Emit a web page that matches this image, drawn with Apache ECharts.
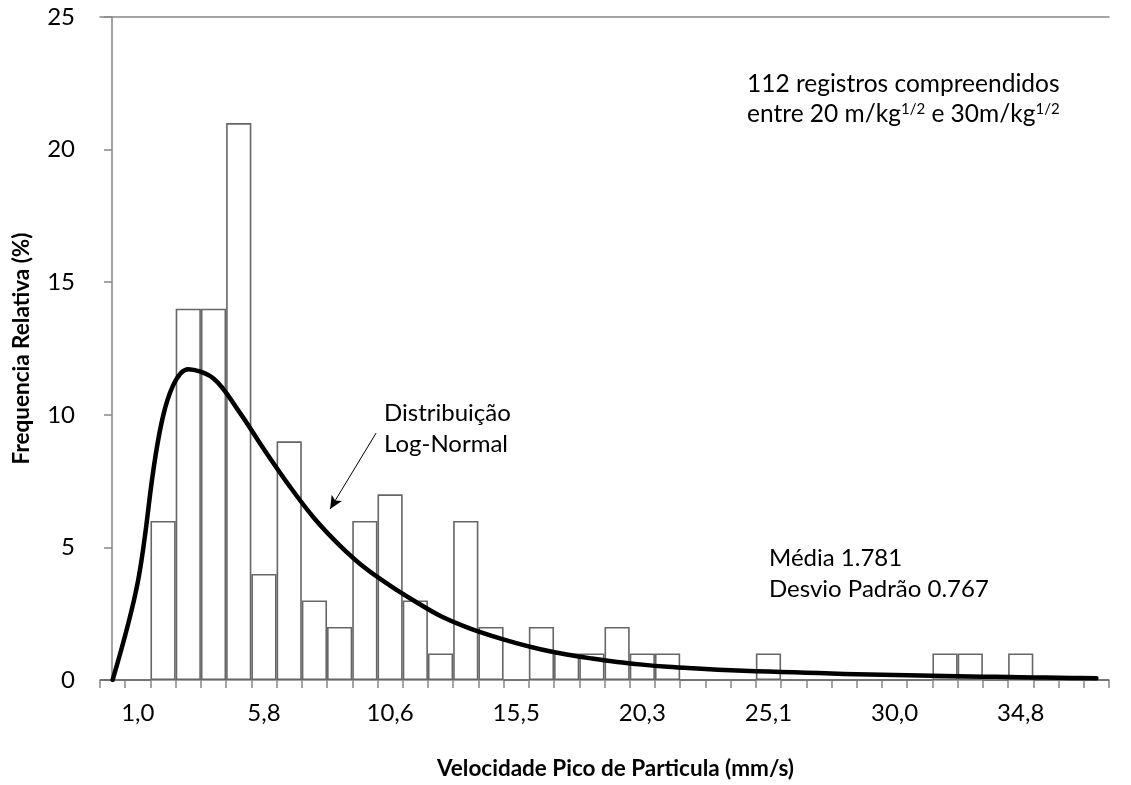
<!DOCTYPE html>
<html>
<head>
<meta charset="utf-8">
<script src="https://cdn.jsdelivr.net/npm/echarts@6/dist/echarts.min.js"></script>
<style>
html,body{margin:0;padding:0;background:#fff;}
#chart{width:1131px;height:785px;}
</style>
</head>
<body>
<div id="chart"></div>
<script>
// Bin centres (mm/s) shown as category labels
const categories = [
  "0,0","1,0","2,0","2,9","3,9","4,9","5,8","6,8","7,7","8,7",
  "9,7","10,6","11,6","12,6","13,5","14,5","15,5","16,4","17,4","18,4",
  "19,3","20,3","21,3","22,2","23,2","24,2","25,1","26,1","27,1","28,0",
  "29,0","30,0","30,9","31,9","32,9","33,8","34,8","35,8","36,7","37,7"
];
// Relative frequency (%) per bin
const frequencies = [
  0, 0, 6, 14, 14, 21, 4, 9, 3, 2,
  6, 7, 3, 1, 6, 2, 0, 2, 1, 1,
  2, 1, 1, 0, 0, 0, 1, 0, 0, 0,
  0, 0, 0, 1, 1, 0, 1, 0, 0, 0
];
// Log-normal curve (%) at each bin centre
const logNormal = [
  0, 3.7, 9.95, 11.72, 11.37, 10.14, 8.70, 7.33, 6.09, 5.08,
  4.23, 3.56, 2.96, 2.41, 2.00, 1.67, 1.39, 1.15, 0.96, 0.81,
  0.68, 0.58, 0.50, 0.44, 0.39, 0.35, 0.32, 0.29, 0.26, 0.23,
  0.21, 0.19, 0.17, 0.15, 0.13, 0.12, 0.10, 0.09, 0.08, 0.07
];
// Range of the mm/s value scale at the plot edges (used for the annotation arrow)
const valueAxisRange = [-0.459, 38.169];
// Annotation arrow: from [mm/s, %] to [mm/s, %]
const arrowFrom = [10.11, 9.31];
const arrowTo = [8.35, 6.45];

const FONT = 'Lato';
const AXIS_COLOR = '#868686';

const chart = echarts.init(document.getElementById('chart'), null, {renderer: 'canvas'});

const option = {
  animation: false,
  backgroundColor: '#ffffff',
  grid: {left: 100, right: 22, top: 17, bottom: 105, containLabel: false},
  xAxis: [
    {
      type: 'category',
      data: categories,
      position: 'bottom',
      boundaryGap: true,
      axisLine: {show: true, lineStyle: {color: AXIS_COLOR, width: 1.5}},
      axisTick: {show: true, interval: 0, length: 8, lineStyle: {color: AXIS_COLOR, width: 1.5}},
      axisLabel: {
        interval: function (i) { return i % 5 === 1; },
        margin: 21, fontSize: 24, fontFamily: FONT, color: '#000'
      },
      splitLine: {show: false},
      name: 'Velocidade Pico de Particula (mm/s)',
      nameLocation: 'middle',
      nameGap: 77,
      nameTextStyle: {fontSize: 22.5, fontWeight: 'bold', fontFamily: FONT, color: '#000', padding: [0, 0, 0, 22]}
    },
    {
      type: 'value',
      position: 'top',
      min: valueAxisRange[0],
      max: valueAxisRange[1],
      axisLine: {show: true, onZero: false, lineStyle: {color: AXIS_COLOR, width: 1.5}},
      axisTick: {show: false},
      axisLabel: {show: false},
      splitLine: {show: false}
    }
  ],
  yAxis: {
    type: 'value',
    min: 0, max: 25, interval: 5,
    axisLine: {show: true, lineStyle: {color: AXIS_COLOR, width: 1.5}},
    axisTick: {show: true, length: 8, lineStyle: {color: AXIS_COLOR, width: 1.5}},
    axisLabel: {margin: 25, fontSize: 24, fontFamily: FONT, color: '#000'},
    splitLine: {show: false},
    name: 'Frequencia Relativa (%)',
    nameLocation: 'middle',
    nameGap: 67,
    nameTextStyle: {fontSize: 22.5, fontWeight: 'bold', fontFamily: FONT, color: '#000'}
  },
  series: [
    {
      type: 'bar',
      xAxisIndex: 0,
      yAxisIndex: 0,
      data: frequencies,
      barCategoryGap: '0%',
      itemStyle: {color: '#ffffff', borderColor: '#666666', borderWidth: 1.6},
      z: 2
    },
    {
      type: 'line',
      xAxisIndex: 0,
      yAxisIndex: 0,
      data: logNormal,
      smooth: 0.35,
      symbol: 'none',
      showSymbol: false,
      lineStyle: {color: '#000', width: 4.5, cap: 'round', join: 'round'},
      z: 3
    },
    {
      type: 'line',
      xAxisIndex: 1,
      yAxisIndex: 0,
      data: [],
      symbol: 'none',
      z: 4,
      markLine: {
        silent: true,
        symbol: ['none', 'arrow'],
        symbolSize: [9, 13],
        label: {show: false},
        lineStyle: {color: '#000', width: 1, type: 'solid'},
        data: [[{coord: arrowFrom}, {coord: arrowTo}]]
      }
    }
  ],
  graphic: [
    {type: 'text', x: 747, y: 84, style: {text: '112 registros compreendidos', fontSize: 24.5, fontFamily: FONT, fill: '#000', align: 'left', verticalAlign: 'middle'}},
    {type: 'text', x: 747, y: 114, style: {
      text: 'entre 20 m/kg{sup|1/2} e 30m/kg{sup|1/2}',
      fontSize: 24.5, fontFamily: FONT, fill: '#000', align: 'left', verticalAlign: 'middle',
      rich: {sup: {fontSize: 15, fontFamily: FONT, fill: '#000', verticalAlign: 'top', padding: [0, 0, 8, 0]}}
    }},
    {type: 'text', x: 384, y: 413, style: {text: 'Distribuição', fontSize: 24, fontFamily: FONT, fill: '#000', align: 'left', verticalAlign: 'middle'}},
    {type: 'text', x: 384, y: 444, style: {text: 'Log-Normal', fontSize: 24, fontFamily: FONT, fill: '#000', align: 'left', verticalAlign: 'middle'}},
    {type: 'text', x: 769, y: 558, style: {text: 'Média 1.781', fontSize: 24, fontFamily: FONT, fill: '#000', align: 'left', verticalAlign: 'middle'}},
    {type: 'text', x: 769, y: 589, style: {text: 'Desvio Padrão 0.767', fontSize: 24, fontFamily: FONT, fill: '#000', align: 'left', verticalAlign: 'middle'}}
  ]
};

chart.setOption(option);
</script>
</body>
</html>
